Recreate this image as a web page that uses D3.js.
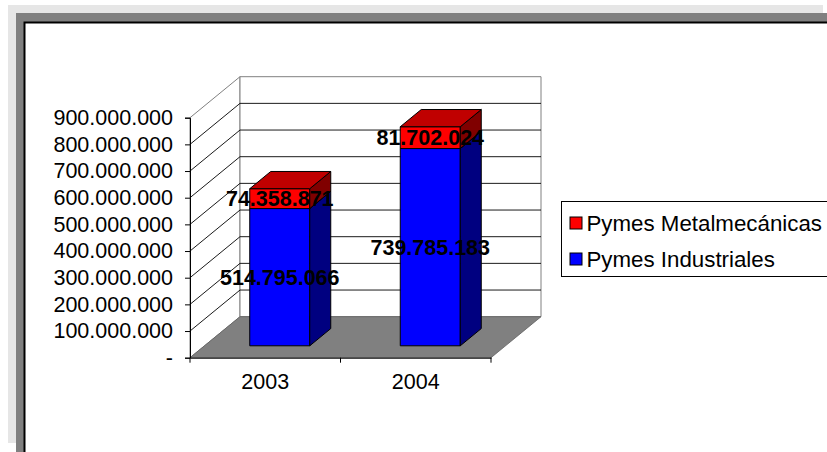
<!DOCTYPE html>
<html>
<head>
<meta charset="utf-8">
<script src="https://cdn.jsdelivr.net/npm/d3@7"></script>
<style>
  body { margin: 0; background: #fff; }
  svg { display: block; font-family: "Liberation Sans", Arial, sans-serif; }
</style>
</head>
<body>
<div id="chart"></div>
<script>
// data
var years = ["2003", "2004"];
var industriales = [514795066, 739785183];
var metalmecanicas = [74358871, 81702024];
var seriesNames = ["Pymes Metalmecánicas", "Pymes Industriales"];
var yTicks = [0, 100000000, 200000000, 300000000, 400000000, 500000000,
              600000000, 700000000, 800000000, 900000000];

var svgWidth = 827;
var svgHeight = 452;

var svg = d3.select("#chart")
    .append("svg")
    .attr("width", svgWidth)
    .attr("height", svgHeight);

// ****************************************************
// frame: light shadow, dark shadow, white chart area
svg.append("rect")
    .attr("x", 8).attr("y", 5)
    .attr("width", 815).attr("height", 438)
    .attr("fill", "#e6e6e6");

svg.append("rect")
    .attr("x", 16).attr("y", 13)
    .attr("width", 820).attr("height", 450)
    .attr("fill", "#808080");

svg.append("rect")
    .attr("x", 24.5).attr("y", 22.5)
    .attr("width", 820).attr("height", 450)
    .attr("fill", "#fff")
    .attr("stroke", "#000")
    .attr("stroke-width", 2);

// ****************************************************
// scales + fake 3d depth
var fmt = d3.formatLocale({decimal: ",", thousands: ".", grouping: [3], currency: ["", ""]}).format(",d");

var yScale = d3.scaleLinear()
    .domain([0, 900000000])
    .range([357.7, 117.7]);

var xScale = d3.scaleBand()
    .domain(years)
    .range([190, 491])
    .padding(0);

var depthX = 50;
var depthY = 41;
var xLeft = xScale.range()[0];
var xRight = xScale.range()[1];
var yTop = d3.max(yTicks);

// project a point: front x pixel, value, depth 0..1
function proj(px, v, z) {
    return [px + z * depthX, yScale(v) - z * depthY];
}
function poly(pts) {
    return "M" + pts.map(function(p) { return p[0] + "," + p[1]; }).join("L") + "Z";
}

// ****************************************************
// walls
svg.append("path")
    .attr("d", poly([proj(xLeft, 0, 0), proj(xLeft, yTop, 0), proj(xLeft, yTop, 1), proj(xLeft, 0, 1)]))
    .attr("fill", "#fff")
    .attr("stroke", "#808080");

svg.append("path")
    .attr("d", poly([proj(xLeft, 0, 1), proj(xLeft, yTop, 1), proj(xRight, yTop, 1), proj(xRight, 0, 1)]))
    .attr("fill", "#fff")
    .attr("stroke", "#808080");

// gridlines (left wall + back wall)
svg.selectAll(".grid")
    .data(yTicks.filter(function(t) { return t > 0 && t < yTop; }))
    .enter()
    .append("path")
    .attr("class", "grid")
    .attr("d", function(t) {
        var a = proj(xLeft, t, 0), b = proj(xLeft, t, 1), c = proj(xRight, t, 1);
        return "M" + a + "L" + b + "L" + c;
    })
    .attr("fill", "none")
    .attr("stroke", "#000")
    .attr("stroke-width", 0.9);

// floor
svg.append("path")
    .attr("d", poly([proj(xLeft, 0, 0), proj(xRight, 0, 0), proj(xRight, 0, 1), proj(xLeft, 0, 1)]))
    .attr("fill", "#808080")
    .attr("stroke", "#606060")
    .attr("stroke-width", 0.8);

// ****************************************************
// stacked 3d bars
var barHalf = 30;
var z0 = 0.29;
var z1 = 0.71;

var stackData = years.map(function(y, i) {
    return {year: y, segs: [
        {lo: 0, hi: industriales[i], front: "#0000ff", side: "#000080", top: "#0000c0", value: industriales[i]},
        {lo: industriales[i], hi: industriales[i] + metalmecanicas[i], front: "#ff0000", side: "#800000", top: "#c00000", value: metalmecanicas[i]}
    ]};
});

stackData.forEach(function(d) {
    var cx = xScale(d.year) + xScale.bandwidth() / 2;
    var l = cx - barHalf, r = cx + barHalf;
    var g = svg.append("g").attr("class", "bar");
    d.segs.forEach(function(s) {
        g.append("path")
            .attr("d", poly([proj(l, s.lo, z0), proj(r, s.lo, z0), proj(r, s.hi, z0), proj(l, s.hi, z0)]))
            .attr("fill", s.front).attr("stroke", "#000").attr("stroke-width", 1).attr("stroke-linejoin", "round");
        g.append("path")
            .attr("d", poly([proj(r, s.lo, z0), proj(r, s.lo, z1), proj(r, s.hi, z1), proj(r, s.hi, z0)]))
            .attr("fill", s.side).attr("stroke", "#000").attr("stroke-width", 1).attr("stroke-linejoin", "round");
        g.append("path")
            .attr("d", poly([proj(l, s.hi, z0), proj(r, s.hi, z0), proj(r, s.hi, z1), proj(l, s.hi, z1)]))
            .attr("fill", s.top).attr("stroke", "#000").attr("stroke-width", 1).attr("stroke-linejoin", "round");
    });
});

// data labels on the front faces
stackData.forEach(function(d) {
    var cx = xScale(d.year) + xScale.bandwidth() / 2;
    d.segs.forEach(function(s) {
        var p = proj(cx, (s.lo + s.hi) / 2, z0);
        svg.append("text")
            .attr("x", p[0])
            .attr("y", p[1])
            .attr("dy", "0.36em")
            .attr("text-anchor", "middle")
            .attr("font-size", "21.5px")
            .attr("font-weight", "bold")
            .attr("fill", "#000")
            .text(fmt(s.value));
    });
});

// ****************************************************
// axes
var yAxis = d3.axisLeft(yScale)
    .tickValues(yTicks)
    .tickSize(5)
    .tickPadding(12)
    .tickFormat(function(t) { return t === 0 ? "-" : fmt(t); });

var yG = svg.append("g")
    .attr("class", "yAxis")
    .attr("transform", "translate(" + xLeft + ",0)")
    .call(yAxis);
yG.select(".domain").attr("stroke", "#000");
yG.selectAll("text").attr("font-size", "21.5px").attr("fill", "#000")
    .attr("font-family", "'Liberation Sans', Arial, sans-serif");

var xAxis = d3.axisBottom(xScale)
    .tickSize(0)
    .tickPadding(16);

var xG = svg.append("g")
    .attr("class", "xAxis")
    .attr("transform", "translate(0," + yScale(0) + ")")
    .call(xAxis);
xG.select(".domain").attr("stroke", "#000");
xG.selectAll("text").attr("font-size", "21.5px").attr("fill", "#000")
    .attr("font-family", "'Liberation Sans', Arial, sans-serif");

// category boundary ticks
var bounds = years.map(function(y) { return xScale(y); }).concat([xRight]);
xG.selectAll(".btick")
    .data(bounds)
    .enter()
    .append("line")
    .attr("class", "btick")
    .attr("x1", function(b) { return b; })
    .attr("x2", function(b) { return b; })
    .attr("y1", 0)
    .attr("y2", 5)
    .attr("stroke", "#000");

// ****************************************************
// legend
var legend = svg.append("g").attr("class", "legend")
    .attr("transform", "translate(561.5,201.5)");

legend.append("rect")
    .attr("width", 300)
    .attr("height", 75)
    .attr("fill", "#fff")
    .attr("stroke", "#000");

var legendColors = ["#ff0000", "#0000ff"];
seriesNames.forEach(function(name, i) {
    var row = legend.append("g").attr("transform", "translate(0," + (21 + i * 36) + ")");
    row.append("rect")
        .attr("x", 8.5).attr("y", -5.5)
        .attr("width", 12).attr("height", 12)
        .attr("fill", legendColors[i])
        .attr("stroke", "#000");
    row.append("text")
        .attr("x", 25)
        .attr("y", 0)
        .attr("dy", "0.36em")
        .attr("font-size", "22.3px")
        .attr("fill", "#000")
        .text(name);
});
</script>
</body>
</html>
